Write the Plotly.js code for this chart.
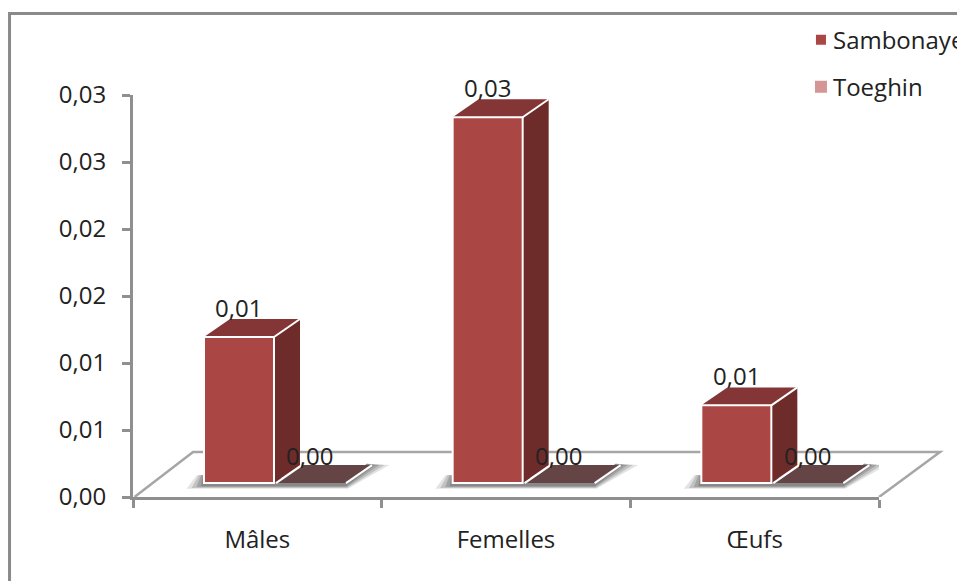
<!DOCTYPE html>
<html lang="fr">
<head>
<meta charset="utf-8">
<title>Sambonaye et Toeghin</title>
<script src="https://cdn.plot.ly/plotly-3.0.1.min.js"></script>
<style>
  html, body { margin: 0; padding: 0; background: #fff; overflow: hidden; }
  #chart { width: 957px; height: 581px; }
</style>
</head>
<body>
<div id="chart"></div>
<script>
// Chart data
const categories = ['Mâles', 'Femelles', 'Œufs'];
const sambonaye = [0.0109, 0.0273, 0.0058];
const toeghin = [0, 0, 0];
const yTickVals = [0, 0.005, 0.01, 0.015, 0.02, 0.025, 0.03];
const yTickText = ['0,00', '0,01', '0,01', '0,02', '0,02', '0,03', '0,03'];

// Pseudo-3D geometry, in axis units
const yMax = 0.03;
const lift = 0.00104;       // column feet sit this far up the floor
const barWidth = 0.2815;
const offsetA = -0.2145;
const offsetB = 0.075;
const depthX = 0.1046;
const depthY = 0.00134;
const floorY = 0.00336;

const AXIS = '#8f8f8f';
const FONT = { family: '"Open Sans", sans-serif', size: 24, color: '#222222' };

const poly = pts => 'M' + pts.map(p => p.join(',')).join('L') + 'Z';
const shapes = [];

// Outer frame, open at the right and the bottom
shapes.push({
  type: 'path', xref: 'paper', yref: 'paper', layer: 'below',
  path: 'M-0.1655,-0.21L-0.1655,1.2027L1.11,1.2027',
  line: { color: '#8a8a8a', width: 3 }
});

// Floor plane
shapes.push({
  type: 'path', xref: 'paper', yref: 'y', layer: 'below',
  path: 'M0.002,0L0.0805,' + floorY + 'L1.0818,' + floorY + 'L1,0',
  line: { color: '#a6a6a6', width: 2.5 }
});

categories.forEach((c, i) => {
  const a0 = i + offsetA, a1 = a0 + barWidth;
  const b0 = i + offsetB, b1 = b0 + barWidth;

  // Soft contact shadow, built from nested translucent layers
  [[0.07, 0.00042, 0.16], [0.05, 0.00036, 0.22], [0.03, 0.0003, 0.26], [0.012, 0.00024, 0.3]].forEach(([grow, drop, op]) => {
    shapes.push({
      type: 'path', xref: 'x', yref: 'y', layer: 'below',
      path: poly([
        [a0 - grow, lift - drop],
        [b1 + grow * 0.1, lift - drop],
        [b1 + depthX + grow, lift + depthY],
        [b1 + depthX - 0.02, lift + depthY + 0.0001],
        [b1 - 0.02, lift + 0.0002],
        [a0 - grow * 0.4, lift + 0.0006]
      ]),
      fillcolor: '#4f4f4f', opacity: op, line: { width: 0 }
    });
  });

  // Zero-height column: only its top face shows
  const tb = lift + toeghin[i];
  shapes.push({
    type: 'path', xref: 'x', yref: 'y', layer: 'below',
    path: poly([[b0, tb], [b0 + depthX, tb + depthY], [b1 + depthX, tb + depthY], [b1, tb]]),
    fillcolor: '#644444', line: { width: 0 }
  });
  shapes.push({
    type: 'path', xref: 'x', yref: 'y', layer: 'below',
    path: 'M' + b0 + ',' + tb + 'L' + (b0 + depthX) + ',' + (tb + depthY),
    line: { color: '#ffffff', width: 2 }
  });
  shapes.push({
    type: 'path', xref: 'x', yref: 'y', layer: 'below',
    path: 'M' + b1 + ',' + tb + 'L' + (b1 + depthX) + ',' + (tb + depthY),
    line: { color: '#ffffff', width: 2 }
  });

  // Side and top faces of the Sambonaye column
  const ta = lift + sambonaye[i];
  shapes.push({
    type: 'path', xref: 'x', yref: 'y', layer: 'below',
    path: poly([[a1, lift], [a1 + depthX, lift + depthY], [a1 + depthX, ta + depthY], [a1, ta]]),
    fillcolor: '#6d2b2a', line: { width: 0 }
  });
  shapes.push({
    type: 'path', xref: 'x', yref: 'y', layer: 'below',
    path: poly([[a0, ta], [a0 + depthX, ta + depthY], [a1 + depthX, ta + depthY], [a1, ta]]),
    fillcolor: '#843535', line: { width: 0 }
  });
  // Bright edge where the top meets the side
  shapes.push({
    type: 'path', xref: 'x', yref: 'y', layer: 'below',
    path: 'M' + a1 + ',' + ta + 'L' + (a1 + depthX) + ',' + (ta + depthY),
    line: { color: '#ffffff', width: 2 }
  });
});

// Value labels use the same numbers as the columns
const fmt = v => v.toFixed(2).replace('.', ',');
const valueLabel = (x, v, shift) => ({
  x: x, y: lift + v, xref: 'x', yref: 'y', text: fmt(v), showarrow: false,
  xanchor: 'center', yanchor: 'middle', yshift: shift, font: FONT
});
const annotations = [];
categories.forEach((c, i) => {
  annotations.push(valueLabel(i + offsetA + barWidth / 2, sambonaye[i], 30));
  annotations.push(valueLabel(i + offsetB + barWidth / 2 - 0.005, toeghin[i], 28));
});

const xIndex = categories.map((c, i) => i);
const traces = [
  {
    type: 'bar', name: 'Sambonaye', x: xIndex, y: sambonaye, base: lift,
    offset: offsetA, width: barWidth, legendgroup: 'a',
    marker: { color: '#aa4644', line: { color: '#ffffff', width: 2 } },
    hoverinfo: 'skip'
  },
  {
    type: 'bar', name: 'Toeghin', x: xIndex, y: toeghin, base: lift,
    offset: offsetB, width: barWidth, legendgroup: 'b',
    marker: { color: '#d59595', line: { width: 0 } },
    hoverinfo: 'skip'
  }
];

const layout = {
  width: 957, height: 581,
  margin: { l: 133, r: 78, t: 95, b: 84, autoexpand: false },
  paper_bgcolor: '#fff', plot_bgcolor: 'rgba(0,0,0,0)',
  barmode: 'overlay',
  font: FONT,
  xaxis: {
    range: [-0.5, 2.5], tickmode: 'array', tickvals: xIndex, ticktext: categories,
    ticks: '', showgrid: false, zeroline: false, showline: true,
    linecolor: AXIS, linewidth: 3, ticklabelstandoff: 19, tickfont: FONT,
    minor: { tickmode: 'array', tickvals: [-0.5, 0.5, 1.5, 2.5], ticks: 'outside', ticklen: 8, tickwidth: 3, tickcolor: AXIS, showgrid: false }
  },
  yaxis: {
    range: [0, yMax], tickmode: 'array', tickvals: yTickVals, ticktext: yTickText,
    ticks: 'outside', ticklen: 8, tickwidth: 3, tickcolor: AXIS, showgrid: false, zeroline: false,
    showline: true, linecolor: AXIS, linewidth: 3, ticklabelstandoff: 11, tickfont: FONT
  },
  legend: {
    x: 0.8954, xanchor: 'left', y: 1.1926, yanchor: 'top', font: FONT,
    tracegroupgap: 13, indentation: -8, bgcolor: 'rgba(0,0,0,0)', borderwidth: 0, traceorder: 'grouped'
  },
  shapes: shapes,
  annotations: annotations
};

Plotly.newPlot('chart', traces, layout, { displayModeBar: false, staticPlot: true }).then(() => {
  // Bring the legend swatches closer to their labels
  document.querySelectorAll('.legend .legendsymbols').forEach(g => g.setAttribute('transform', 'translate(8,0)'));
});
</script>
</body>
</html>
